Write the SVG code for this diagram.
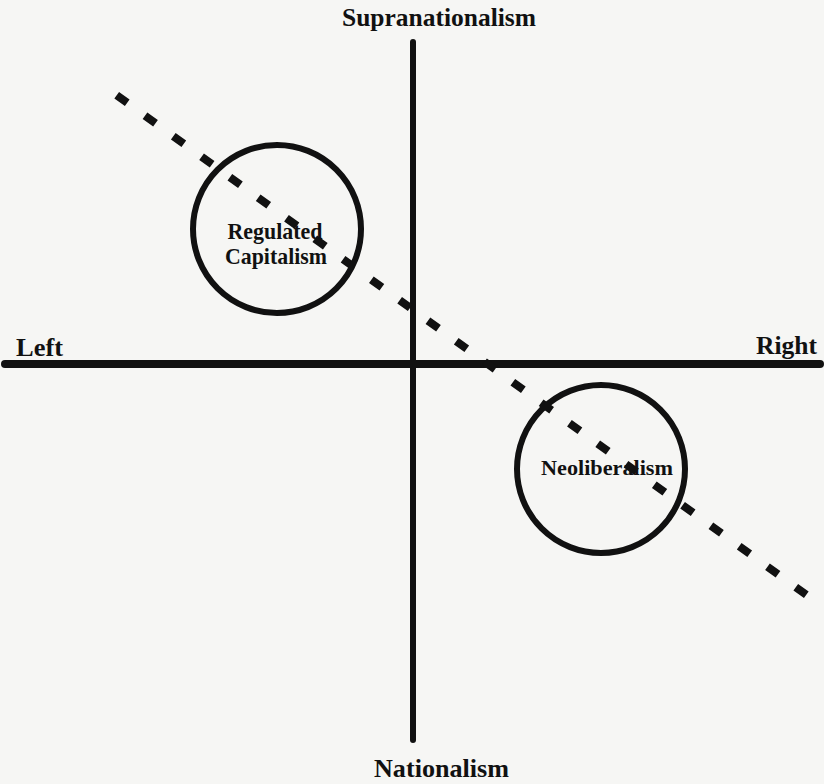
<svg xmlns="http://www.w3.org/2000/svg" width="824" height="784" viewBox="0 0 824 784">
  <style>
    .lbl { font-family: "Liberation Serif", "Times New Roman", serif; font-weight: bold; fill: #111; }
    .axis { stroke: #111; stroke-linecap: round; fill: none; }
    .ring { fill: none; stroke: #111; stroke-width: 6; }
    .trend { stroke: #111; stroke-width: 8; stroke-dasharray: 13 21.94; fill: none; }
  </style>
  <rect x="0" y="0" width="824" height="784" fill="#f6f6f4"/>
  <g id="connectors">
    <line class="axis" x1="5" y1="364" x2="820" y2="364" stroke-width="8"/>
    <line class="axis" x1="413" y1="42" x2="413" y2="740" stroke-width="6"/>
    <line class="trend" x1="116.7" y1="95.2" x2="806.3" y2="594.8"/>
  </g>
  <g id="axis-top">
    <text class="lbl" x="439" y="26" font-size="25" text-anchor="middle" textLength="194" lengthAdjust="spacingAndGlyphs">Supranationalism</text>
  </g>
  <g id="axis-bottom">
    <text class="lbl" x="441.5" y="777" font-size="25" text-anchor="middle" textLength="135" lengthAdjust="spacingAndGlyphs">Nationalism</text>
  </g>
  <g id="axis-left">
    <text class="lbl" x="16" y="356" font-size="25" textLength="47" lengthAdjust="spacingAndGlyphs">Left</text>
  </g>
  <g id="axis-right">
    <text class="lbl" x="817" y="354" font-size="25" text-anchor="end" textLength="61" lengthAdjust="spacingAndGlyphs">Right</text>
  </g>
  <g id="regulated-capitalism">
    <circle class="ring" cx="277" cy="229" r="84"/>
    <text class="lbl" x="275" y="239" font-size="24" text-anchor="middle" textLength="95" lengthAdjust="spacingAndGlyphs">Regulated</text>
    <text class="lbl" x="276" y="264" font-size="24" text-anchor="middle" textLength="102" lengthAdjust="spacingAndGlyphs">Capitalism</text>
  </g>
  <g id="neoliberalism">
    <circle class="ring" cx="601" cy="469" r="84"/>
    <text class="lbl" x="607" y="475" font-size="22" text-anchor="middle" textLength="132" lengthAdjust="spacingAndGlyphs">Neoliberalism</text>
  </g>
</svg>
